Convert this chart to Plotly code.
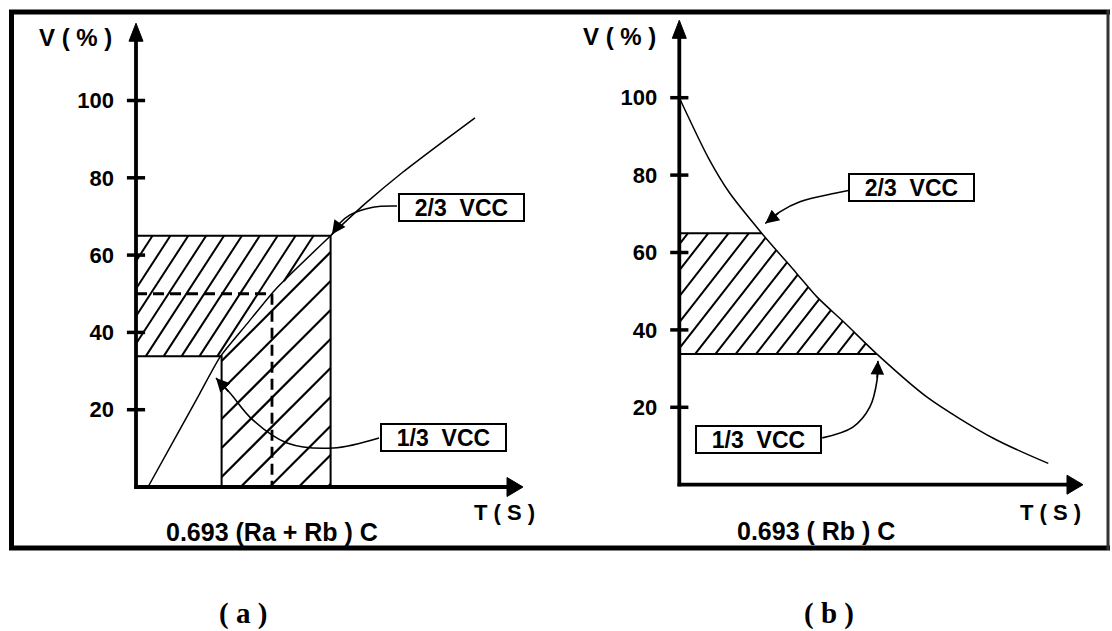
import numpy as np
import plotly.graph_objects as go

W, H = 1112, 631

# ---------------- data ----------------
y_ticks = [20, 40, 60, 80, 100]
y_tick_labels = ["20", "40", "60", "80", "100"]

level_high = 65.0      # 2/3 Vcc level (%)
level_low = 33.8       # 1/3 Vcc level (%)
level_dashed = 50.0

# panel (a): charging curve
t_charge = [0.6, 2.1, 3.2, 4.2, 5.55, 6.95, 9.73, 11.5, 13.35, 15.2, 16.95]
v_charge = [0.0, 14.0, 24.3, 33.6, 42.2, 51.0, 65.0, 73.5, 81.5, 88.8, 95.5]
t_box_a = 4.28         # end of the 1/3 level (white box)
t_rect_a = 9.73        # right edge of hatched rectangle
t_dash_a = 6.8         # dashed marker

# panel (b): discharging curve
t_dis = [0.0, 1.5, 2.5, 4.12, 5.87, 6.87, 8.29, 9.87, 12.37, 15.7, 18.45]
v_dis = [100.0, 84.0, 75.5, 65.0, 54.6, 48.6, 41.7, 33.8, 22.7, 12.0, 5.5]

label_high = "2/3\u00a0\u00a0VCC"
label_low = "1/3\u00a0\u00a0VCC"

# ---------------- layout geometry ----------------
def fx(p):
    return p / W

def fy(p):
    return 1 - p / H

PX_T = 20.0
T_PAD = 2.0
V_PAD = 6.0
Y_TOP = 120.0
A_X0, A_X1, A_Y0 = 136.0, 530.0, 487.0
B_X0, B_X1, B_Y0 = 679.3, 1090.0, 484.7
A_SY, B_SY = 3.865, 3.87

xa_range = [-T_PAD, (A_X1 - A_X0) / PX_T]
xb_range = [-T_PAD, (B_X1 - B_X0) / PX_T]
y_range = [-V_PAD, Y_TOP + 1]

fig = go.Figure()
BLACK = "black"


def hatch(poly_t, poly_v, sx, sy, angle, spacing, offset=0.0):
    P = np.column_stack([np.asarray(poly_t, float) * sx, np.asarray(poly_v, float) * sy])
    th = np.radians(angle)
    d = np.array([np.cos(th), np.sin(th)])
    n = np.array([-np.sin(th), np.cos(th)])
    c = P @ n
    xs, ys = [], []
    k0 = int(np.floor((c.min() - offset) / spacing))
    k1 = int(np.ceil((c.max() - offset) / spacing))
    for k in range(k0, k1 + 1):
        cc = offset + k * spacing
        pts = []
        for i in range(len(P)):
            j = (i + 1) % len(P)
            c1, c2 = c[i], c[j]
            if (c1 - cc) * (c2 - cc) < 0:
                s = (cc - c1) / (c2 - c1)
                pts.append(P[i] + s * (P[j] - P[i]))
        pts.sort(key=lambda p: p @ d)
        for a, b in zip(pts[0::2], pts[1::2]):
            xs += [a[0] / sx, b[0] / sx, None]
            ys += [a[1] / sy, b[1] / sy, None]
    return xs, ys


def line(xs, ys, xa, ya, width=2.0, dash=None, shape="linear", smoothing=1.0):
    ln = dict(color=BLACK, width=width, dash=dash, shape=shape)
    if shape == "spline":
        ln["smoothing"] = smoothing
    fig.add_trace(go.Scatter(x=xs, y=ys, xaxis=xa, yaxis=ya, mode="lines", line=ln,
                             hoverinfo="skip", showlegend=False, cliponaxis=False))


def tri(xs, ys, xa, ya):
    fig.add_trace(go.Scatter(x=xs, y=ys, xaxis=xa, yaxis=ya, mode="lines", fill="toself",
                             fillcolor=BLACK, line=dict(color=BLACK, width=1),
                             hoverinfo="skip", showlegend=False))


# ---------- panel (a) ----------
tc = np.array(t_charge); vc = np.array(v_charge)
t_hi_a = float(np.interp(level_high, vc, tc))
t_lo_a = float(np.interp(level_low, vc, tc))
mid = (vc > level_low) & (vc < level_high)

poly_l_t = [0, 0, t_hi_a] + list(tc[mid][::-1]) + [t_lo_a]
poly_l_v = [level_low, level_high, level_high] + list(vc[mid][::-1]) + [level_low]
hx, hy = hatch(poly_l_t, poly_l_v, PX_T, A_SY, 57, 15.0, 3)
line(hx, hy, "x", "y", width=2.0)

poly_r_t = [t_box_a, t_box_a, t_lo_a] + list(tc[mid]) + [t_rect_a, t_rect_a]
poly_r_v = [0, level_low, level_low] + list(vc[mid]) + [level_high, 0]
hx, hy = hatch(poly_r_t, poly_r_v, PX_T, A_SY, 45, 20.5, 8)
line(hx, hy, "x", "y", width=2.2)

# outlines
line([0, t_rect_a, t_rect_a], [level_high, level_high, 0], "x", "y", 2)
line([0, t_box_a, t_box_a], [level_low, level_low, 0], "x", "y", 2)
line([0, t_dash_a, t_dash_a], [level_dashed, level_dashed, 0], "x", "y", 2.8, dash="11px,6px")
line(t_charge, v_charge, "x", "y", 1.5, shape="spline", smoothing=0.6)

# ---------- panel (b) ----------
td = np.array(t_dis); vd = np.array(v_dis)
t_hi_b = float(np.interp(-level_high, -vd, td))
t_lo_b = float(np.interp(-level_low, -vd, td))
midb = (vd > level_low) & (vd < level_high)
poly_b_t = [0, 0, t_hi_b] + list(td[midb]) + [t_lo_b]
poly_b_v = [level_low, level_high, level_high] + list(vd[midb]) + [level_low]
hx, hy = hatch(poly_b_t, poly_b_v, PX_T, B_SY, 52, 16.0, 4)
line(hx, hy, "x2", "y2", width=2.0)
line([0, t_hi_b], [level_high, level_high], "x2", "y2", 2)
line([0, t_lo_b], [level_low, level_low], "x2", "y2", 2)
line(t_dis, v_dis, "x2", "y2", 1.5, shape="spline", smoothing=0.8)

# ---------- axes (lines, ticks, arrows) ----------
for xa, ya, sy, xr in (("x", "y", A_SY, xa_range), ("x2", "y2", B_SY, xb_range)):
    y_tip = Y_TOP
    x_tip = xr[1] - 0.35
    head_len_y = 18 / sy
    head_w_x = 7.0 / PX_T
    head_len_x = 16 / PX_T
    hh = 9.5 / sy
    line([0, 0], [-0.4, y_tip - head_len_y + 0.5], xa, ya, 3.8)
    line([-0.09, x_tip - head_len_x + 0.05], [0, 0], xa, ya, 3.8)
    tri([-head_w_x, head_w_x, 0, -head_w_x],
        [y_tip - head_len_y, y_tip - head_len_y, y_tip, y_tip - head_len_y], xa, ya)
    tri([x_tip - head_len_x, x_tip - head_len_x, x_tip, x_tip - head_len_x],
        [-hh, hh, 0, -hh], xa, ya)
    fig.add_trace(go.Scatter(x=[0] * len(y_ticks), y=y_ticks, xaxis=xa, yaxis=ya, mode="markers",
                             marker=dict(symbol="line-ew", size=13, line=dict(color=BLACK, width=3.5)),
                             hoverinfo="skip", showlegend=False, cliponaxis=False))

# ---------- curved pointer arrows ----------
arrow_a_high_t = [13.05, 11.85, 10.7, 10.2, 9.8]
arrow_a_high_v = [72.7, 72.4, 70.4, 68.3, 65.4]
arrow_a_low_t = [12.15, 9.85, 7.55, 5.85, 4.7, 4.0]
arrow_a_low_v = [12.7, 10.1, 11.4, 17.3, 24.3, 28.2]
arrow_b_high_t = [8.45, 7.78, 6.03, 5.03, 4.3]
arrow_b_high_v = [76.0, 75.3, 73.1, 70.5, 67.5]
arrow_b_low_t = [7.15, 8.68, 9.53, 9.89, 9.93]
arrow_b_low_v = [12.1, 14.9, 20.1, 27.1, 32.0]

annotations = []
for (ts, vs, xa, ya) in ((arrow_a_high_t, arrow_a_high_v, "x", "y"),
                         (arrow_a_low_t, arrow_a_low_v, "x", "y"),
                         (arrow_b_high_t, arrow_b_high_v, "x2", "y2"),
                         (arrow_b_low_t, arrow_b_low_v, "x2", "y2")):
    line(ts, vs, xa, ya, 1.6, shape="spline")
    annotations.append(dict(x=ts[-1], y=vs[-1], ax=ts[-2], ay=vs[-2], xref=xa, yref=ya,
                            axref=xa, ayref=ya, text="", showarrow=True, arrowhead=2,
                            arrowsize=1.7, arrowwidth=1.6, arrowcolor=BLACK, standoff=0))

FONT = "Liberation Sans, Arial, sans-serif"
box_common = dict(showarrow=False, bordercolor=BLACK, borderwidth=2, borderpad=1,
                  bgcolor="white", width=121, height=23,
                  font=dict(family=FONT, size=23, color=BLACK, weight="bold"))
annotations.append(dict(x=16.28, y=72.3, xref="x", yref="y", text=label_high, **box_common))
annotations.append(dict(x=15.35, y=12.8, xref="x", yref="y", text=label_low, **box_common))
annotations.append(dict(x=11.62, y=76.9, xref="x2", yref="y2", text=label_high, **box_common))
annotations.append(dict(x=3.95, y=11.8, xref="x2", yref="y2", text=label_low, **box_common))


def ptext(px, py, text, size, family=FONT, bold=True):
    annotations.append(dict(x=fx(px), y=fy(py), xref="paper", yref="paper", text=text,
                            showarrow=False, xanchor="center", yanchor="middle",
                            font=dict(family=family, size=size, color=BLACK,
                                      weight="bold" if bold else "normal")))


ptext(75.5, 37.5, "V ( % )", 24)
ptext(619, 36, "V ( % )", 24)
ptext(504, 512, "T ( S )", 22)
ptext(1050, 512, "T ( S )", 22)
ptext(271.5, 531.5, "0.693 (Ra + Rb ) C", 25)
ptext(815.5, 531, "0.693 ( Rb ) C", 25)
ptext(243, 613, "( a )", 29, family="Liberation Serif, serif")
ptext(829, 613, "( b )", 29, family="Liberation Serif, serif")

shapes = [
    dict(type="line", xref="paper", yref="paper", x0=fx(9), x1=fx(1110), y0=fy(12), y1=fy(12),
         line=dict(color=BLACK, width=5)),
    dict(type="line", xref="paper", yref="paper", x0=fx(9), x1=fx(1110), y0=fy(548), y1=fy(548),
         line=dict(color=BLACK, width=5)),
    dict(type="line", xref="paper", yref="paper", x0=fx(11.5), x1=fx(11.5), y0=fy(10), y1=fy(550),
         line=dict(color=BLACK, width=5)),
    dict(type="line", xref="paper", yref="paper", x0=fx(1108), x1=fx(1108), y0=fy(10), y1=fy(550),
         line=dict(color="#333333", width=3)),
]

ycommon = dict(showgrid=False, zeroline=False, showline=False, ticks="",
               tickvals=y_ticks, ticktext=y_tick_labels, ticklabelstandoff=22,
               tickfont=dict(family=FONT, size=22, color=BLACK, weight="bold"), fixedrange=True)
xcommon = dict(showgrid=False, zeroline=False, showline=False, showticklabels=False,
               ticks="", fixedrange=True)


def xdom(x0, xr):
    return [fx(x0 + xr[0] * PX_T), fx(x0 + xr[1] * PX_T)]


def ydom(y0, sy):
    return [fy(y0 - y_range[0] * sy), fy(y0 - y_range[1] * sy)]


fig.update_layout(
    width=W, height=H, margin=dict(l=0, r=0, t=0, b=0),
    paper_bgcolor="white", plot_bgcolor="rgba(0,0,0,0)",
    showlegend=False,
    xaxis=dict(domain=xdom(A_X0, xa_range), range=xa_range, anchor="y", **xcommon),
    yaxis=dict(domain=ydom(A_Y0, A_SY), range=y_range, anchor="free", position=fx(A_X0),
               **ycommon),
    xaxis2=dict(domain=xdom(B_X0, xb_range), range=xb_range, anchor="y2", **xcommon),
    yaxis2=dict(domain=ydom(B_Y0, B_SY), range=y_range, anchor="free", position=fx(B_X0),
                **ycommon),
    annotations=annotations,
    shapes=shapes,
)

fig.write_html("out.html")
